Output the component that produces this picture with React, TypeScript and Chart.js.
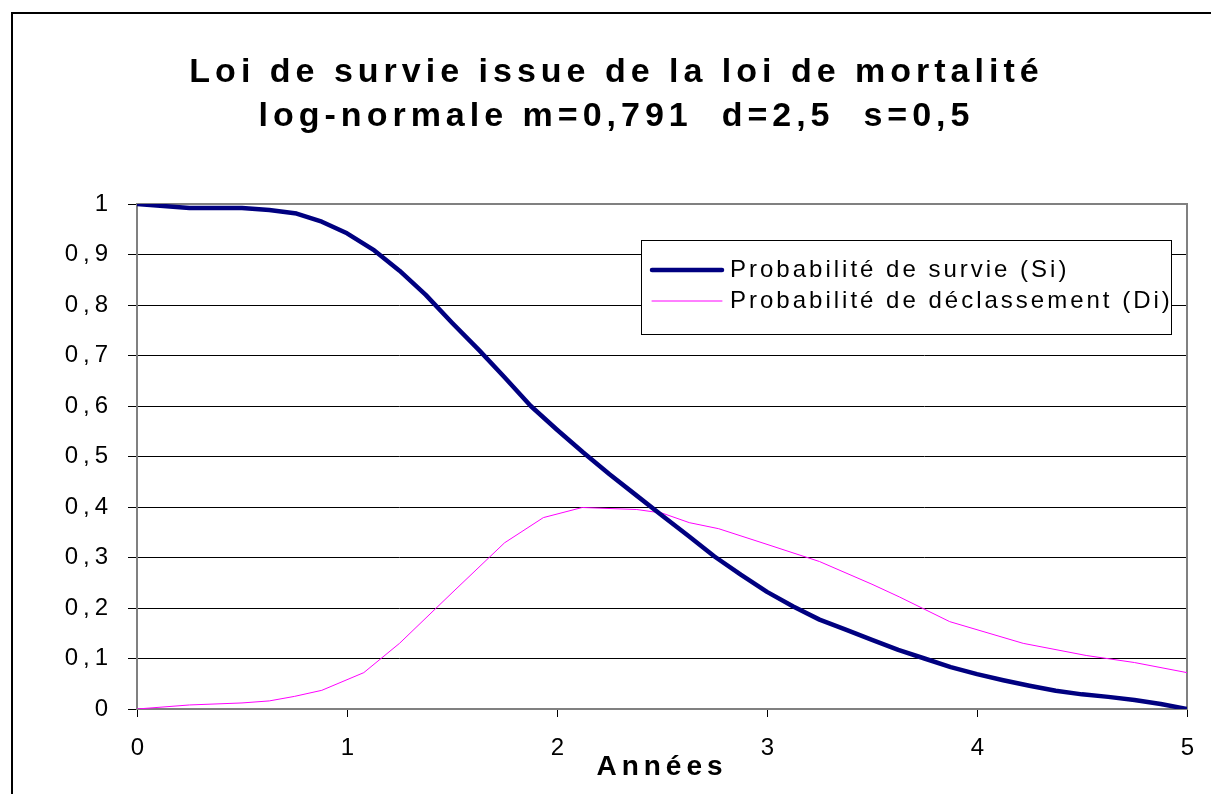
import React, { useEffect, useRef } from 'react';
import { Chart, registerables } from 'chart.js';

Chart.register(...registerables);

// ---------- data ----------
const TITLE_LINES = ['Loi de survie issue de la loi de mortalité', 'log-normale m=0,791  d=2,5  s=0,5'];
const X_AXIS_TITLE = 'Années';
const SERIES_NAMES = ['Probabilité de survie (Si)', 'Probabilité de déclassement (Di)'];
const X_MIN = 0;
const X_MAX = 5;
const X_STEP = 1;
const Y_MIN = 0;
const Y_MAX = 1;
const Y_STEP = 0.1;

// Probabilité de survie (Si)
const S_X = [0, 0.25, 0.5, 0.63, 0.76, 0.88, 1.0, 1.13, 1.25, 1.375, 1.5, 1.63, 1.75, 1.875, 2.0, 2.125, 2.25, 2.375, 2.5, 2.625, 2.75, 2.875, 3.0, 3.125, 3.25, 3.375, 3.5, 3.625, 3.75, 3.875, 4.0, 4.125, 4.25, 4.375, 4.5, 4.625, 4.75, 4.875, 5.0];
const S_Y = [1.0, 0.992, 0.992, 0.988, 0.981, 0.965, 0.942, 0.908, 0.868, 0.82, 0.765, 0.71, 0.657, 0.6, 0.553, 0.508, 0.465, 0.424, 0.383, 0.343, 0.302, 0.266, 0.232, 0.203, 0.177, 0.157, 0.137, 0.117, 0.1, 0.083, 0.069, 0.057, 0.046, 0.036, 0.029, 0.024, 0.018, 0.01, 0.0];

// Probabilité de déclassement (Di)
const D_X = [0, 0.25, 0.5, 0.63, 0.75, 0.88, 1.08, 1.25, 1.5, 1.75, 1.935, 2.12, 2.38, 2.5, 2.63, 2.77, 3.0, 3.25, 3.5, 3.63, 3.87, 4.0, 4.22, 4.52, 4.75, 5.0];
const D_Y = [0, 0.008, 0.012, 0.016, 0.025, 0.037, 0.072, 0.13, 0.23, 0.329, 0.379, 0.399, 0.395, 0.388, 0.369, 0.357, 0.326, 0.292, 0.247, 0.222, 0.173, 0.157, 0.13, 0.106, 0.092, 0.072];

const COLORS = ['#000080', '#FF00FF'];
const WIDTHS = [4.5, 1];

const FONT = '"Liberation Sans", Arial, Helvetica, sans-serif';

const framePlugin = {
  id: 'framePlugin',
  beforeDraw(chart: any) {
    const ctx = chart.ctx;
    ctx.save();
    ctx.strokeStyle = '#000';
    ctx.lineWidth = 2;
    ctx.strokeRect(12, 13, 1400, 1000);
    ctx.restore();
    ctx.letterSpacing = '5px';
  },
  beforeDatasetsDraw(chart: any) {
    const { ctx, chartArea: a } = chart;
    ctx.save();
    ctx.strokeStyle = '#808080';
    ctx.lineWidth = 2;
    ctx.strokeRect(a.left, a.top, a.right - a.left, a.bottom - a.top);
    ctx.restore();
  },
  afterDraw(chart: any) {
    const { ctx, chartArea: a } = chart;
    ctx.save();
    const left = a.right - 546;
    const top = a.top + 36;
    const w = 530;
    const h = 94;
    ctx.fillStyle = '#fff';
    ctx.fillRect(left, top, w, h);
    ctx.strokeStyle = '#000';
    ctx.lineWidth = 1;
    ctx.strokeRect(left + 0.5, top + 0.5, w, h);
    ctx.letterSpacing = '3px';
    ctx.font = `24px ${FONT}`;
    ctx.textBaseline = 'middle';
    ctx.textAlign = 'left';
    chart.data.datasets.forEach((ds: any, i: number) => {
      const y = top + 30 + i * 31;
      ctx.beginPath();
      ctx.strokeStyle = ds.borderColor;
      ctx.lineWidth = ds.borderWidth;
      ctx.lineCap = 'round';
      ctx.moveTo(left + 11, y);
      ctx.lineTo(left + 81, y);
      ctx.stroke();
      ctx.fillStyle = '#000';
      ctx.fillText(ds.label, left + 89, y);
    });
    ctx.restore();
    ctx.letterSpacing = '0px';
  },
};

export default function App() {
  const ref = useRef<HTMLCanvasElement | null>(null);

  useEffect(() => {
    if (!ref.current) return;
    Chart.defaults.font.family = FONT;
    Chart.defaults.color = '#000';
    const chart = new Chart(ref.current, {
      type: 'line',
      data: {
        datasets: [
          {
            label: SERIES_NAMES[0],
            data: S_X.map((x, i) => ({ x, y: S_Y[i] })),
            borderColor: COLORS[0],
            backgroundColor: COLORS[0],
            borderWidth: WIDTHS[0],
            pointRadius: 0,
            tension: 0,
            borderJoinStyle: 'round',
            borderCapStyle: 'round',
          },
          {
            label: SERIES_NAMES[1],
            data: D_X.map((x, i) => ({ x, y: D_Y[i] })),
            borderColor: COLORS[1],
            backgroundColor: COLORS[1],
            borderWidth: WIDTHS[1],
            pointRadius: 0,
            tension: 0,
          },
        ],
      },
      options: {
        responsive: false,
        animation: false,
        layout: { padding: { left: 46, right: 24, top: 0, bottom: 0 } },
        plugins: {
          legend: { display: false },
          tooltip: { enabled: false },
          title: {
            display: true,
            text: TITLE_LINES,
            color: '#000',
            font: { family: FONT, size: 34, weight: 'bold', lineHeight: 44 / 34 },
            padding: { top: 51, bottom: 65 },
          },
        },
        scales: {
          x: {
            type: 'linear',
            min: X_MIN,
            max: X_MAX,
            afterFit: (s: any) => { s.height = 85; },
            ticks: {
              stepSize: X_STEP,
              padding: 17,
              labelOffset: 3,
              font: { size: 24 },
              color: '#000',
              callback: (v: any) => String(v),
            },
            grid: { drawOnChartArea: false, drawTicks: true, tickLength: 8, tickColor: '#000' },
            border: { display: false },
            title: {
              display: true,
              text: X_AXIS_TITLE,
              color: '#000',
              font: { size: 28, weight: 'bold' },
              padding: { top: 0, bottom: 10 },
            },
          },
          y: {
            type: 'linear',
            min: Y_MIN,
            max: Y_MAX,
            afterFit: (s: any) => { s.width = 91; },
            ticks: {
              stepSize: Y_STEP,
              padding: 15,
              font: { size: 24 },
              color: '#000',
              callback: (v: any) => String(Math.round(Number(v) * 10) / 10).replace('.', ','),
            },
            grid: { color: '#000', lineWidth: 1, tickLength: 9, tickColor: '#000' },
            border: { display: false },
          },
        },
      },
      plugins: [framePlugin],
    } as any);
    return () => chart.destroy();
  }, []);

  return (
    <div style={{ position: 'fixed', left: 0, top: 0, width: 1211, height: 794, background: '#fff' }}>
      <canvas ref={ref} width={1211} height={794} style={{ display: 'block' }} />
    </div>
  );
}
